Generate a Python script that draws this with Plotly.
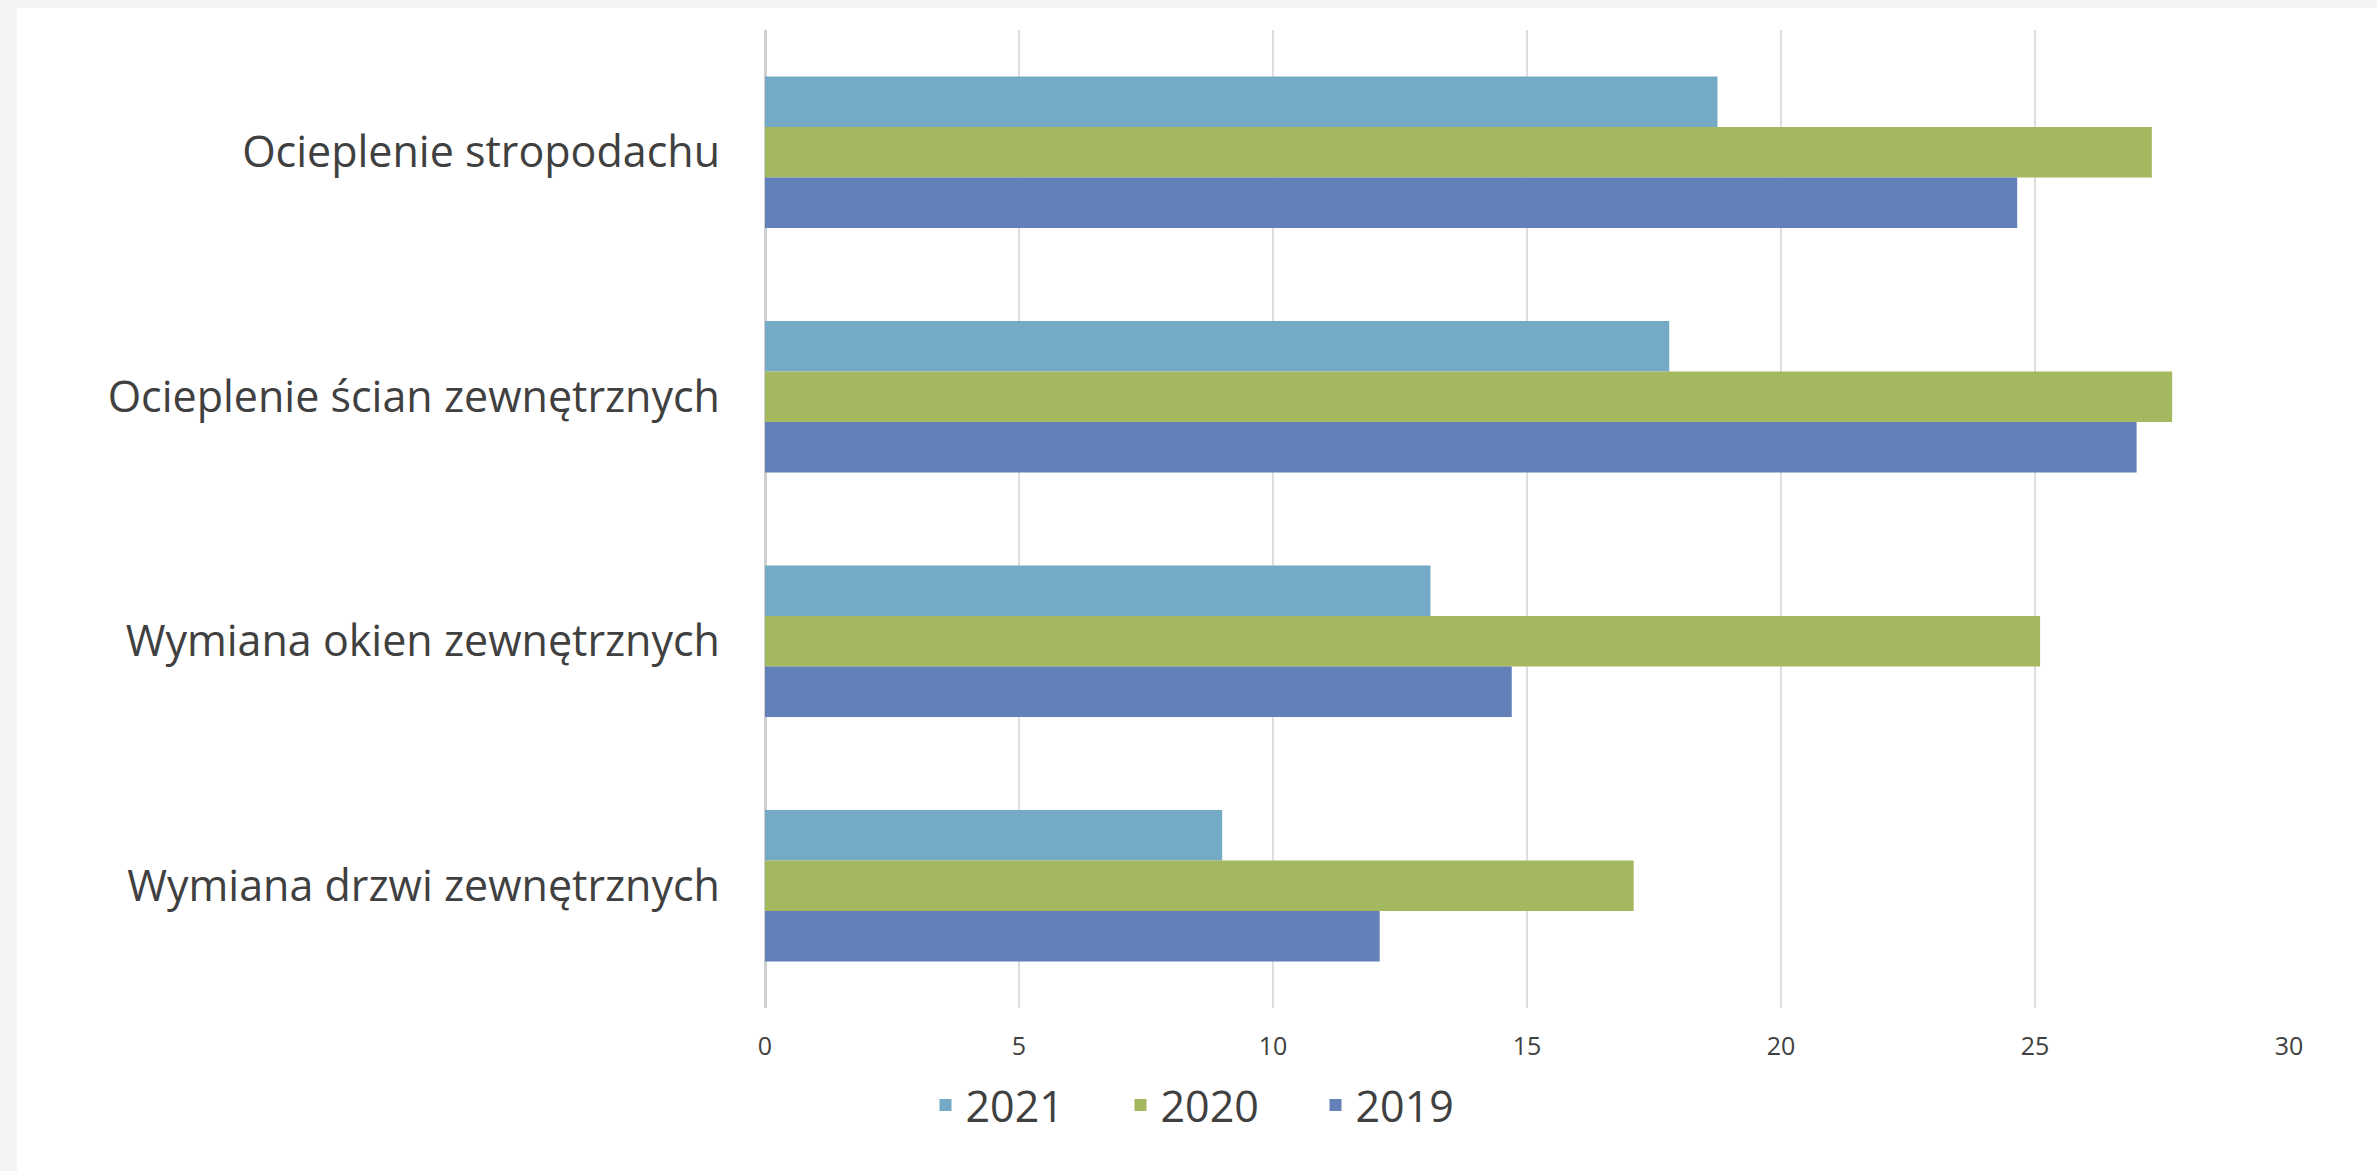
import plotly.graph_objects as go

categories = [
    "Ocieplenie stropodachu",
    "Ocieplenie ścian zewnętrznych",
    "Wymiana okien zewnętrznych",
    "Wymiana drzwi zewnętrznych",
]
series_names = ["2021", "2020", "2019"]
values_2021 = [18.75, 17.8, 13.1, 9.0]
values_2020 = [27.3, 27.7, 25.1, 17.1]
values_2019 = [24.65, 27.0, 14.7, 12.1]
series_values = [values_2021, values_2020, values_2019]
colors = ["#75AAC6", "#A4B860", "#6380B9"]
x_ticks = [0, 5, 10, 15, 20, 25, 30]

W, H = 2377, 1171
L, R, T, B = 765, 88, 30, 163

fig = go.Figure()
for name, vals, col in zip(series_names, series_values, colors):
    fig.add_trace(go.Bar(
        y=categories, x=vals, name=name, orientation="h",
        marker=dict(color=col, line=dict(width=0)),
    ))

pw = W - L - R
ph = H - T - B
fig.add_shape(type="rect", xref="paper", yref="paper", layer="below",
              x0=(17 - L) / pw, x1=(W - L + 5) / pw,
              y0=-(B + 5) / ph, y1=(H - B - 8) / ph,
              fillcolor="white", line=dict(width=0))

fig.update_layout(
    width=W, height=H,
    margin=dict(l=L, r=R, t=T, b=B),
    paper_bgcolor="#F4F4F4", plot_bgcolor="white",
    barmode="group", bargap=0.38, bargroupgap=0,
    font=dict(family="Open Sans", color="#404040"),
    showlegend=True,
    legend=dict(orientation="h", xanchor="center", yanchor="middle",
                x=(1218 - L) / pw, y=-(1105 - (H - B)) / ph,
                font=dict(size=43, color="#404040"),
                entrywidth=150, bgcolor="rgba(0,0,0,0)"),
    xaxis=dict(range=[0, 30], tickvals=x_ticks, showgrid=True,
               gridcolor="#DEDEDE", gridwidth=2,
               zeroline=True, zerolinecolor="#CFCFCF", zerolinewidth=3,
               showline=False, ticks="", ticklabelstandoff=21,
               tickfont=dict(size=25, color="#404040")),
    yaxis=dict(autorange="reversed", showgrid=False, zeroline=False,
               showline=False, ticks="", ticklabelstandoff=44,
               tickfont=dict(size=43, color="#404040")),
)

fig.write_html(
    "out.html",
    config={"displayModeBar": False},
    post_script="document.body.style.margin='0';document.body.style.overflow='hidden';",
)
